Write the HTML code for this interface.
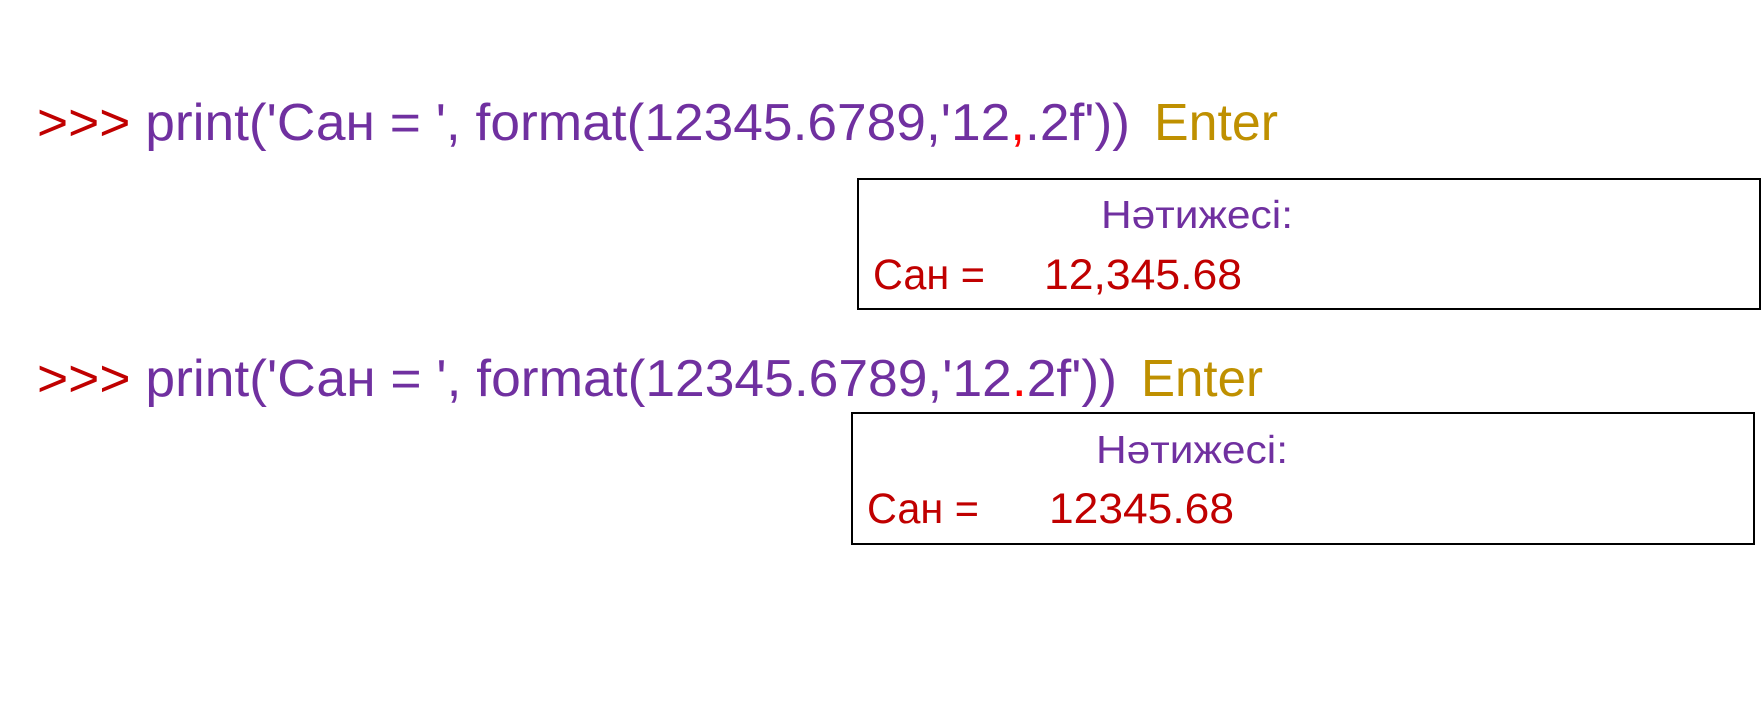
<!DOCTYPE html>
<html><head><meta charset="utf-8"><style>
html,body{margin:0;padding:0;background:#fff;}
svg{display:block;}
text{font-family:"Liberation Sans",sans-serif;}
</style></head><body>
<svg width="1762" height="714" viewBox="0 0 1762 714" xmlns="http://www.w3.org/2000/svg">
<rect x="0" y="0" width="1762" height="714" fill="#fff"/>
<text x="37" y="140" font-size="52" textLength="1093" lengthAdjust="spacingAndGlyphs"><tspan fill="#C00000">&gt;&gt;&gt; </tspan><tspan fill="#7030A0">print('Сан = ', format(12345.6789,'12</tspan><tspan fill="#FF0000">,</tspan><tspan fill="#7030A0">.2f'))</tspan></text>
<text x="1154" y="140" font-size="52" fill="#BF9000" textLength="124" lengthAdjust="spacingAndGlyphs">Enter</text>
<rect x="858" y="179" width="902" height="130" fill="none" stroke="#000" stroke-width="2"/>
<text x="1101" y="228" font-size="39" fill="#7030A0" textLength="192" lengthAdjust="spacingAndGlyphs">Нәтижесі:</text>
<text x="873" y="289" font-size="43" fill="#C00000" textLength="112" lengthAdjust="spacingAndGlyphs">Сан =</text>
<text x="1044" y="289" font-size="43" fill="#C00000" textLength="198" lengthAdjust="spacingAndGlyphs">12,345.68</text>
<text x="37" y="396" font-size="52" textLength="1080" lengthAdjust="spacingAndGlyphs"><tspan fill="#C00000">&gt;&gt;&gt; </tspan><tspan fill="#7030A0">print('Сан = ', format(12345.6789,'12</tspan><tspan fill="#FF0000">.</tspan><tspan fill="#7030A0">2f'))</tspan></text>
<text x="1141" y="396" font-size="52" fill="#BF9000" textLength="122" lengthAdjust="spacingAndGlyphs">Enter</text>
<rect x="852" y="413" width="902" height="131" fill="none" stroke="#000" stroke-width="2"/>
<text x="1096" y="463" font-size="39" fill="#7030A0" textLength="192" lengthAdjust="spacingAndGlyphs">Нәтижесі:</text>
<text x="867" y="523" font-size="43" fill="#C00000" textLength="112" lengthAdjust="spacingAndGlyphs">Сан =</text>
<text x="1049" y="523" font-size="43" fill="#C00000" textLength="185" lengthAdjust="spacingAndGlyphs">12345.68</text>
</svg>
</body></html>
